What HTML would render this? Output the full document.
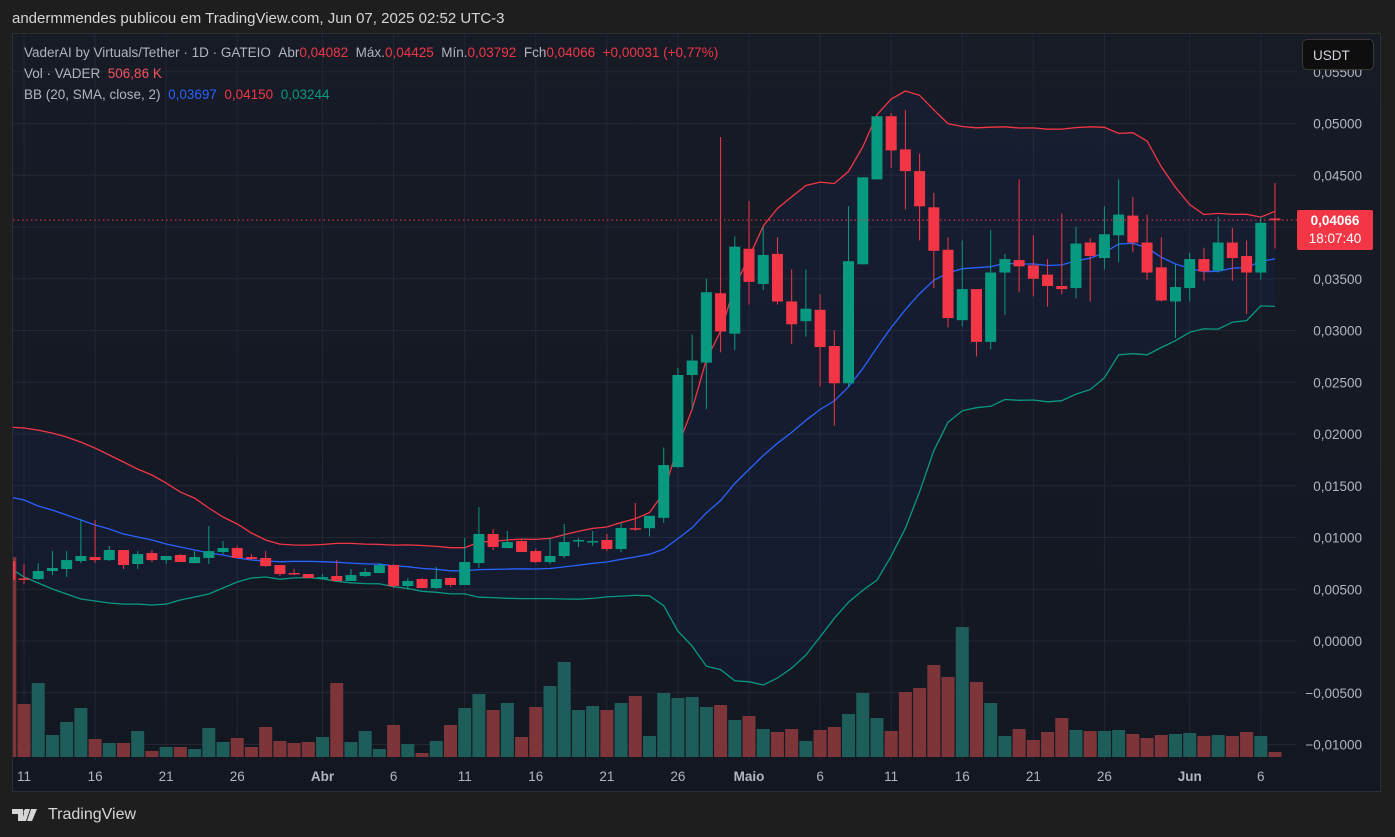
<!DOCTYPE html>
<html><head><meta charset="utf-8">
<style>
html,body{margin:0;padding:0;background:#1e1e1e;width:1395px;height:837px;overflow:hidden;font-family:"Liberation Sans",sans-serif;}
#top{position:absolute;left:12px;top:10px;color:#d6d6d6;font-size:15px;}
#panel{position:absolute;left:12px;top:33px;width:1367px;height:757px;border:1px solid #2e2f33;background:linear-gradient(#171b26,#131722);}
svg{position:absolute;left:0;top:0;}
.leg{position:absolute;left:24px;font-size:13.5px;color:#b2b5be;white-space:nowrap;}
#usdt{position:absolute;left:1302px;top:39px;width:72px;height:31px;border:1px solid #3a3a3a;border-radius:5px;background:#0e0e0e;color:#d1d4dc;font-size:13.5px;line-height:31px;box-sizing:border-box;padding-left:10px;z-index:2;}
#pl{position:absolute;left:1297px;top:210px;width:76px;height:40px;background:#f23645;border-radius:2px;color:#fff;font-size:13.5px;text-align:center;line-height:18px;padding-top:2px;box-sizing:border-box;}
#logo{position:absolute;left:12px;top:806px;color:#d6d6d6;font-size:16px;display:flex;align-items:center;gap:6px;}
</style></head><body>
<div id="top">andermmendes publicou em TradingView.com, Jun 07, 2025 02:52 UTC-3</div>
<div id="panel"></div>
<svg id="chart" width="1395" height="837"></svg>
<div class="leg" style="top:45px">VaderAI by Virtuals/Tether · 1D · GATEIO &nbsp;Abr<span style="color:#f23645">0,04082</span> &nbsp;Máx.<span style="color:#f23645">0,04425</span> &nbsp;Mín.<span style="color:#f23645">0,03792</span> &nbsp;Fch<span style="color:#f23645">0,04066</span> &nbsp;<span style="color:#f23645">+0,00031 (+0,77%)</span></div>
<div class="leg" style="top:66px">Vol · VADER &nbsp;<span style="color:#f7525f">506,86 K</span></div>
<div class="leg" style="top:87px">BB (20, SMA, close, 2) &nbsp;<span style="color:#2962ff">0,03697</span> &nbsp;<span style="color:#f23645">0,04150</span> &nbsp;<span style="color:#089981">0,03244</span></div>
<div id="usdt">USDT</div>
<div id="pl"><b style="font-weight:bold">0,04066</b><br>18:07:40</div>
<div id="logo"><svg width="30" height="14" style="position:static"><path d="M0 1h11v12H6V6H0z M13 1h5l-4 12h-4z" fill="#d6d6d6"/><circle cx="14" cy="4" r="2.5" fill="#d6d6d6"/><path d="M19 1h6l-5 12h-5z" fill="#d6d6d6"/></svg><span>TradingView</span></div>
<script>
const opens=[0.00773,0.00605,0.00599,0.00676,0.00696,0.00773,0.00811,0.00782,0.00879,0.00744,0.00850,0.00782,0.00831,0.00753,0.00802,0.00860,0.00898,0.00811,0.00802,0.00734,0.00657,0.00647,0.00609,0.00628,0.00580,0.00628,0.00657,0.00734,0.00531,0.00599,0.00512,0.00609,0.00541,0.00753,0.01034,0.00898,0.00966,0.00869,0.00763,0.00821,0.00966,0.00956,0.00976,0.00889,0.01090,0.0109,0.0119,0.0168,0.0257,0.0269,0.0336,0.0297,0.0379,0.0345,0.0374,0.0328,0.0309,0.0320,0.0285,0.0249,0.0364,0.0446,0.0507,0.0475,0.0454,0.0419,0.0378,0.0310,0.0340,0.0289,0.0356,0.0368,0.0363,0.0354,0.0343,0.0341,0.0385,0.0370,0.0392,0.0411,0.0385,0.0361,0.0328,0.0341,0.0369,0.0358,0.0385,0.0372,0.0356,0.04082];
const highs=[0.00773,0.00744,0.00753,0.00869,0.00869,0.01179,0.01169,0.00918,0.00879,0.00869,0.00879,0.00821,0.00840,0.00869,0.01111,0.00966,0.00918,0.00840,0.00869,0.00734,0.00696,0.00647,0.00647,0.00782,0.00696,0.00705,0.00753,0.00744,0.00609,0.00609,0.00715,0.00618,0.00995,0.01294,0.01082,0.01063,0.00985,0.00889,0.00995,0.01130,0.00995,0.01063,0.01034,0.01140,0.01333,0.0121,0.0187,0.0264,0.0296,0.0350,0.0487,0.0391,0.0425,0.0400,0.0390,0.0359,0.0359,0.0335,0.0300,0.0420,0.0448,0.0507,0.0510,0.0513,0.0471,0.0433,0.0390,0.0387,0.0340,0.0397,0.0374,0.0446,0.0392,0.0369,0.0413,0.0400,0.0389,0.0420,0.0446,0.0429,0.0412,0.0390,0.0364,0.0375,0.0380,0.0410,0.0399,0.0387,0.0410,0.04425];
const lows=[0.00589,0.00551,0.00589,0.00637,0.00618,0.00753,0.00753,0.00773,0.00696,0.00696,0.00763,0.00744,0.00763,0.00753,0.00744,0.00840,0.00802,0.00782,0.00715,0.00628,0.00637,0.00609,0.00609,0.00580,0.00580,0.00618,0.00657,0.00512,0.00493,0.00512,0.00502,0.00522,0.00541,0.00705,0.00879,0.00898,0.00860,0.00753,0.00744,0.00802,0.00908,0.00918,0.00869,0.00860,0.01063,0.0101,0.0114,0.0167,0.0224,0.0224,0.0279,0.0281,0.0325,0.0339,0.0325,0.0287,0.0294,0.0246,0.0208,0.0245,0.0364,0.0446,0.0457,0.0417,0.0387,0.0341,0.0303,0.0304,0.0275,0.0282,0.0315,0.0337,0.0333,0.0323,0.0335,0.0331,0.0328,0.0359,0.0366,0.0376,0.0349,0.0328,0.0293,0.0328,0.0348,0.0356,0.0348,0.0316,0.0349,0.03792];
const closes=[0.00589,0.00600,0.00676,0.00705,0.00782,0.00821,0.00782,0.00879,0.00734,0.00840,0.00782,0.00821,0.00763,0.00811,0.00869,0.00898,0.00802,0.00792,0.00724,0.00647,0.00652,0.00609,0.00618,0.00580,0.00637,0.00667,0.00734,0.00531,0.00580,0.00512,0.00599,0.00541,0.00763,0.01034,0.00908,0.00956,0.00860,0.00763,0.00821,0.00956,0.00976,0.00966,0.00889,0.01092,0.01082,0.0121,0.0170,0.0257,0.0271,0.0337,0.0299,0.0381,0.0347,0.0373,0.0328,0.0306,0.0321,0.0284,0.0249,0.0367,0.0448,0.0507,0.0474,0.0454,0.0420,0.0377,0.0312,0.0340,0.0289,0.0356,0.0369,0.0362,0.0350,0.0343,0.0340,0.0384,0.0372,0.0393,0.0412,0.0385,0.0356,0.0329,0.0342,0.0369,0.0357,0.0385,0.0370,0.0356,0.0404,0.04066];
const volumes=[200,53,74,22,35,49,18,14,14,26,6,10,10,8,29,15,19,10,30,16,14,15,20,74,15,26,8,32,13,4,16,32,49,63,47,54,20,50,71,95,47,51,47,54,61,21,64,59,60,50,52,37,41,28,25,28,16,27,30,43,64,39,26,65,69,92,80,130,75,54,21,28,17,25,39,27,26,26,27,23,19,22,23,24,21,22,21,25,21,5];
// Bollinger values for first 19 bars (prior history not shown)
const bbMidEarly=[0.01391,0.01362,0.01304,0.01265,0.01217,0.01169,0.01121,0.01082,0.01034,0.01005,0.00976,0.00937,0.00908,0.00879,0.00850,0.00831,0.00802,0.00783,0.00773];
const bbUpEarly=[0.02067,0.02058,0.02038,0.02009,0.01971,0.01922,0.01864,0.01797,0.01729,0.01661,0.01604,0.01526,0.01439,0.01381,0.01285,0.01198,0.01130,0.01043,0.00976];
const bbLoEarly=[0.00705,0.00618,0.00560,0.00502,0.00454,0.00406,0.00386,0.00367,0.00357,0.00357,0.00348,0.00357,0.00396,0.00425,0.00454,0.00512,0.00570,0.00609,0.00618];
const priceTicks=[0.055,0.05,0.045,0.04,0.035,0.03,0.025,0.02,0.015,0.01,0.005,0,-0.005,-0.01];
const timeTicks=[[1,"11"],[6,"16"],[11,"21"],[16,"26"],[22,"Abr"],[27,"6"],[32,"11"],[37,"16"],[42,"21"],[47,"26"],[52,"Maio"],[57,"6"],[62,"11"],[67,"16"],[72,"21"],[77,"26"],[83,"Jun"],[88,"6"]];
const lastPrice=0.04066;

const NS="http://www.w3.org/2000/svg";
const svg=document.getElementById('chart');
const X=i=>24+(i-1)*14.216;
const Y=p=>641-p*10350;
const VY=v=>757-v;
function mk(t,a,parent){const e=document.createElementNS(NS,t);for(const k in a)e.setAttribute(k,a[k]);(parent||svg).appendChild(e);return e;}
const defs=mk('defs',{});const cp=mk('clipPath',{id:'plot'},defs);mk('rect',{x:13,y:34,width:1284,height:727},cp);
const fmt=p=>(p<0?'\u2212':'')+Math.abs(p).toFixed(5).replace('.',',');
priceTicks.forEach(p=>{const l=mk('line',{x1:13,x2:1297,y1:Y(p),y2:Y(p),stroke:'#232733','stroke-width':1});


const t=mk('text',{x:1362,y:Y(p)+5,'text-anchor':'end',fill:'#b2b5be','font-size':13.5,'font-family':'Liberation Sans, sans-serif'});t.textContent=fmt(p);

});
timeTicks.forEach(([i,s])=>{const l=mk('line',{x1:X(i),x2:X(i),y1:34,y2:761,stroke:'#232733','stroke-width':1});


const t=mk('text',{x:X(i),y:781,'text-anchor':'middle',fill:'#b2b5be','font-size':13.5,'font-weight':(isNaN(+s)?'bold':'normal'),'font-family':'Liberation Sans, sans-serif'});t.textContent=s;

});
const g=mk('g',{'clip-path':'url(#plot)'});
const mid=[],up=[],lo=[];
for(let i=0;i<closes.length;i++){
 if(i<19){mid.push(bbMidEarly[i]);up.push(bbUpEarly[i]);lo.push(bbLoEarly[i]);continue;}
 const w=closes.slice(i-19,i+1);const m=w.reduce((a,b)=>a+b,0)/20;
 const sd=Math.sqrt(w.reduce((a,b)=>a+(b-m)*(b-m),0)/20);
 mid.push(m);up.push(m+2*sd);lo.push(m-2*sd);}
const pts=a=>a.map((p,i)=>X(i).toFixed(1)+','+Y(p).toFixed(1));
const fill=mk('polygon',{points:pts(up).concat(pts(lo).reverse()).join(' '),fill:'rgba(41,98,255,0.05)'},g);


volumes.forEach((v,i)=>{const r=mk('rect',{x:X(i)-6.5,y:VY(v),width:13,height:v,fill:closes[i]>=opens[i]?'#1e5e5a':'#7e3539'},g);

});
[[up,'#f23645','bb-upper-line'],[lo,'#089981','bb-lower-line'],[mid,'#2962ff','bb-basis-line']].forEach(([a,c,n])=>{
 const l=mk('polyline',{points:pts(a).join(' '),fill:'none',stroke:c,'stroke-width':1.3},g);
 
 });
closes.forEach((c,i)=>{const o=opens[i];const col=c>=o?'#089981':'#f23645';const x=X(i);
 const cg=mk('g',{},g);
 
 
 mk('line',{x1:x,x2:x,y1:Y(highs[i]),y2:Y(lows[i]),stroke:col,'stroke-width':1},cg);
 const t=Math.min(Y(o),Y(c)),h=Math.max(1.5,Math.abs(Y(o)-Y(c)));
 mk('rect',{x:x-5.5,y:t,width:11,height:h,fill:col},cg);});
const pl=mk('line',{x1:13,x2:1297,y1:Y(lastPrice),y2:Y(lastPrice),stroke:'#f23645','stroke-width':1,'stroke-dasharray':'1.5,3'});


</script>
</body></html>
